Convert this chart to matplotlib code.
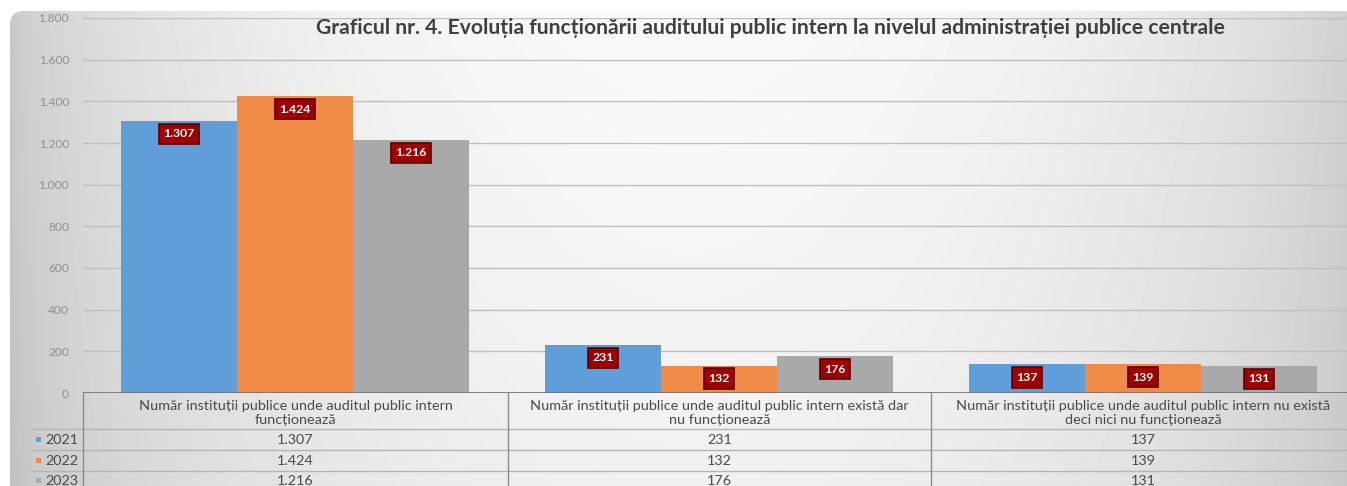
import numpy as np
import matplotlib
matplotlib.use("Agg")
import matplotlib.pyplot as plt
from matplotlib.patches import FancyBboxPatch, Rectangle

plt.rcParams['font.family'] = ['Lato', 'DejaVu Sans']

# ---- data -------------------------------------------------------------
categories = [
    "Număr instituții publice unde auditul public intern\nfuncționează",
    "Număr instituții publice unde auditul public intern există dar\nnu funcționează",
    "Număr instituții publice unde auditul public intern nu există\ndeci nici nu funcționează",
]
years = ["2021", "2022", "2023"]
values_2021 = [1307, 231, 137]
values_2022 = [1424, 132, 139]
values_2023 = [1216, 176, 131]
series = [values_2021, values_2022, values_2023]
colors = ["#5f9ed8", "#ef8a47", "#a9a9a9"]
yticks = [0, 200, 400, 600, 800, 1000, 1200, 1400, 1600, 1800]
title = ("Graficul nr. 4. Evoluția funcționării auditului public intern "
         "la nivelul administrației publice centrale")


def fmt(v):
    return f"{v:,}".replace(",", ".")


W, H = 1347, 486
fig = plt.figure(figsize=(W / 100, H / 100), dpi=100)
fig.patch.set_facecolor("white")

# ---- gradient backdrop with rounded corners -----------------------------
bg = fig.add_axes([0, 0, 1, 1])
bg.set_xlim(0, W)
bg.set_ylim(H, 0)
bg.axis("off")
xs = np.linspace(0, 1, 400)
prof = 0.78 + 0.20 * np.sin(np.pi * xs) ** 0.55
vert = np.linspace(1.0, 0.96, 120)[:, None]
img = np.clip(prof[None, :] * vert, 0, 1)
im = bg.imshow(img, cmap="gray", vmin=0, vmax=1, extent=[10, W + 20, H + 20, 11],
               aspect="auto", interpolation="bilinear")
clip = FancyBboxPatch((10, 11), W, H + 20, boxstyle="round,pad=0,rounding_size=14",
                      transform=bg.transData, fc="none", ec="none")
bg.add_patch(clip)
im.set_clip_path(clip)

# ---- main bar axes ------------------------------------------------------
x_left, x_right = 83, 1355
y_top, y_bot = 18, 393
ax = fig.add_axes([x_left / W, (H - y_bot) / H, (x_right - x_left) / W, (y_bot - y_top) / H])
ax.patch.set_alpha(0)
ax.set_xlim(-0.5, 2.5)
ax.set_ylim(0, 1800)
for s in ax.spines.values():
    s.set_visible(False)
ax.set_yticks(yticks)
ax.set_yticklabels([fmt(t) for t in yticks], fontsize=8.6, color="#909090")
ax.tick_params(axis="y", length=0, pad=10)
ax.set_xticks([])
ax.grid(axis="y", color="#c0c0c0", linewidth=1)
ax.set_axisbelow(True)
ax.axhline(0, color="#707070", linewidth=1.2, zorder=3)

bw = 116 / 424
xpos = np.arange(len(categories))
for i, (vals, col) in enumerate(zip(series, colors)):
    offs = (i - 1) * bw
    ax.bar(xpos + offs, vals, width=bw, color=col, zorder=2)
    for x, v in zip(xpos + offs, vals):
        ax.annotate(fmt(v), (x, v), xytext=(0, -13), textcoords="offset pixels",
                    ha="center", va="center", fontsize=8.8, fontweight="bold",
                    color="white", zorder=4,
                    bbox=dict(boxstyle="square,pad=0.38", fc="#a00000", ec="#5c0000", lw=1.2))

fig.text(770 / W, 1 - 28 / H, title, ha="center", va="center", fontsize=15.2,
         fontweight="bold", color="#404040")

# ---- data table under the axis -----------------------------------------
tb = fig.add_axes([0, 0, 1, (H - y_bot) / H])
tb.set_xlim(0, W)
tb.set_ylim(H, y_bot)
tb.axis("off")
tb.patch.set_alpha(0)

line_col = "#8c8c8c"
row_lines = [429, 450, 471]
col_edges = [x_left, 508, 931, 1355]
for y in row_lines:
    tb.plot([30, W], [y, y], color="#b5b5b5", lw=1)
for x in col_edges:
    tb.plot([x, x], [y_bot, H], color=line_col, lw=1)
tb.plot([30, 30], [424, H], color="#c8c8c8", lw=1)

tsize = 10.4
tcol = "#4a4a4a"
centers = [(col_edges[k] + col_edges[k + 1]) / 2 for k in range(3)]
for c, lab in zip(centers, categories):
    tb.text(c, 413, lab, ha="center", va="center", fontsize=tsize, color=tcol,
            linespacing=1.25)

row_mid = [440, 461, 481]
for r, (yr, vals, col) in enumerate(zip(years, series, colors)):
    y = row_mid[r]
    tb.add_patch(Rectangle((36, y - 2.5), 5, 5, fc=col, ec="none"))
    tb.text(45, y, yr, ha="left", va="center", fontsize=tsize, color=tcol)
    for c, v in zip(centers, vals):
        tb.text(c, y, fmt(v), ha="center", va="center", fontsize=tsize, color=tcol)

fig.savefig("out.png", dpi=100)
